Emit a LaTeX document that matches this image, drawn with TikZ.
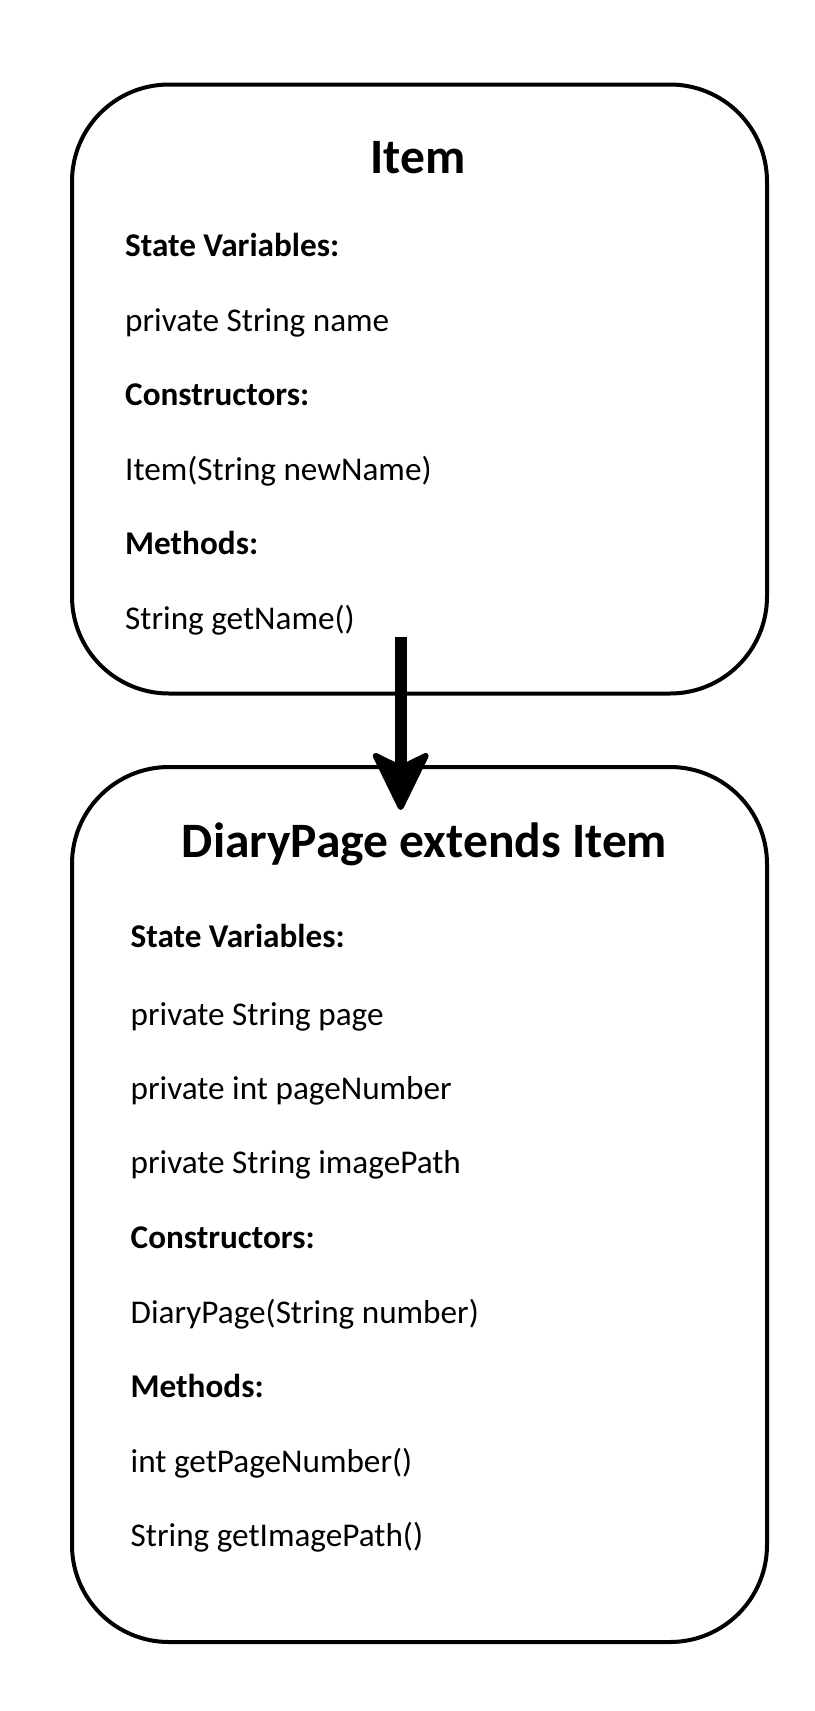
\documentclass[tikz,border=0pt]{standalone}
\usepackage{fontspec}
\setmainfont{Carlito}
\usetikzlibrary{arrows.meta}

\begin{document}
\begin{tikzpicture}[x=1pt, y=-1pt,
classbox/.style={rectangle, rounded corners=97pt, draw=black, line width=4pt,
minimum width=695pt, inner sep=0pt},
%
title/.style={anchor=base, inner sep=0pt, font=\fontsize{49.5}{58}\selectfont\bfseries},
%
head/.style={anchor=base west, inner sep=0pt, font=\fontsize{33.2}{40}\selectfont\bfseries},
%
entry/.style={anchor=base west, inner sep=0pt, font=\fontsize{33.2}{40}\selectfont},
%
extends/.style={line width=12pt,
-{Stealth[length=64pt, width=62pt, inset=15pt, line width=6pt, round]}}]

\useasboundingbox (0,0) rectangle (814,1711);

\begin{scope}
  \node [classbox, minimum height=609pt] (itemBox) at (419.5,389) {};
  \node [title] (itemTitle) at (418,173.3) {Item};
  %%%%%%%%%%%%%%%%%%%%%%%%%%%%%%
  \node [head] (itemVars) at (125,256.5) {State Variables:};
  \node [entry] (itemName) at (125,331.5) {private String name};
  \node [head] (itemCons) at (125,405) {Constructors:};
  \node [entry] (itemNew) at (125,480.5) {Item(String newName)};
  \node [head] (itemMeth) at (125,554.5) {Methods:};
  \node [entry] (itemGet) at (125,629.3) {String getName()};
\end{scope}

\begin{scope}
  \node [classbox, minimum height=875pt] (pageBox) at (419.5,1204.5) {};
  \node [title] (pageTitle) at (424.5,857) {DiaryPage extends Item};
  %%%%%%%%%%%%%%%%%%%%%%%%%%%%%%
  \node [head] (pageVars) at (130.5,947) {State Variables:};
  \node [entry] (pageText) at (130.5,1025) {private String page};
  \node [entry] (pageNum) at (130.5,1099) {private int pageNumber};
  \node [entry] (pageImg) at (130.5,1173) {private String imagePath};
  \node [head] (pageCons) at (130.5,1248.5) {Constructors:};
  \node [entry] (pageNew) at (130.5,1323) {DiaryPage(String number)};
  \node [head] (pageMeth) at (130.5,1397) {Methods:};
  \node [entry] (pageGetNum) at (130.5,1472) {int getPageNumber()};
  \node [entry] (pageGetImg) at (130.5,1546) {String getImagePath()};
\end{scope}

\begin{scope}
  \coordinate (extFrom) at ([xshift=-18.8pt, yshift=59pt]itemBox.south);
  \coordinate (extTo) at ([xshift=-18.8pt, yshift=-45pt]pageBox.north);
  \draw [extends] (extFrom) -- (extTo);
\end{scope}

\end{tikzpicture}
\end{document}
